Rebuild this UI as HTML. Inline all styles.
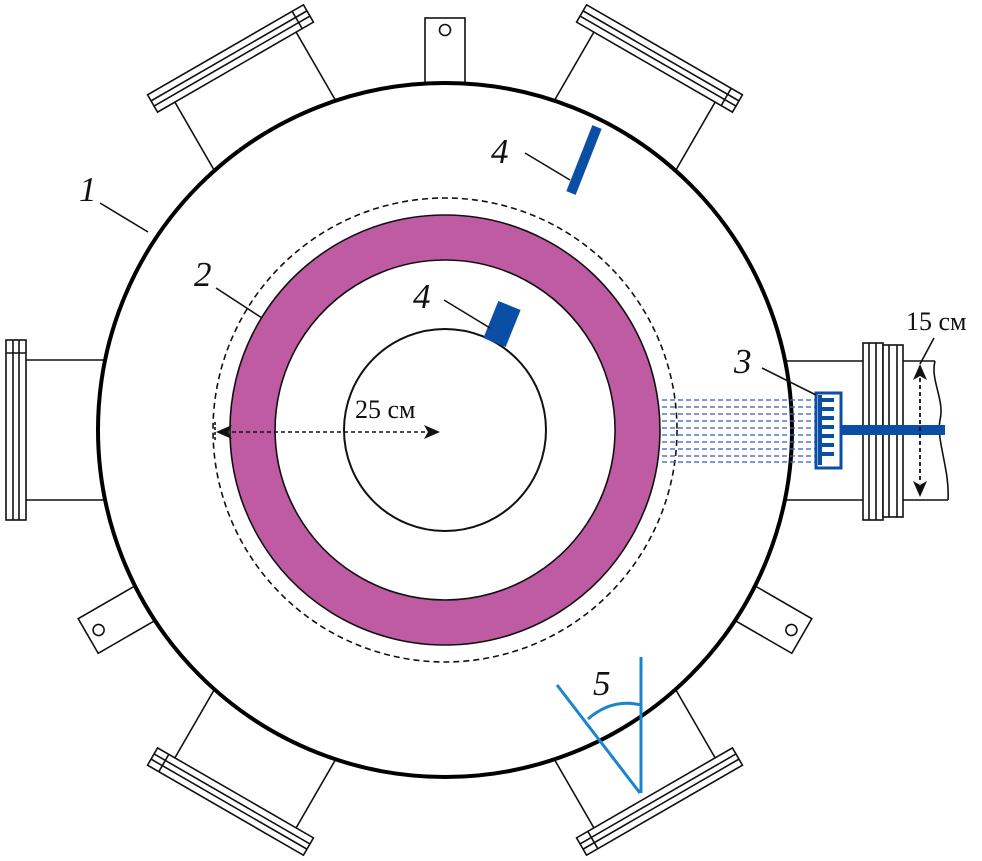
<!DOCTYPE html>
<html><head><meta charset="utf-8"><style>
html,body{margin:0;padding:0;background:#fff}
svg{display:block}
text{font-family:"Liberation Serif",serif;fill:#111}
</style></head><body>
<svg width="982" height="861" viewBox="0 0 982 861" xmlns="http://www.w3.org/2000/svg">
<defs>
<g id="port" fill="none" stroke="#111" stroke-width="1.6">
  <line x1="780" y1="360" x2="864" y2="360"/>
  <line x1="780" y1="500" x2="864" y2="500"/>
  <rect x="864" y="340" width="20" height="180" fill="#fff"/>
  <line x1="871" y1="340" x2="871" y2="520"/>
  <line x1="877" y1="340" x2="877" y2="520"/>
  <line x1="864" y1="507" x2="884" y2="507"/>
</g>
<g id="tab" fill="#fff" stroke="#111" stroke-width="1.6">
  <rect x="785" y="410" width="72" height="40"/>
  <circle cx="845" cy="430" r="5.5"/>
</g>
</defs>
<use href="#port" transform="rotate(180 445 430)"/>
<use href="#port" transform="rotate(-120 445 430)"/>
<use href="#port" transform="rotate(-60 445 430)"/>
<use href="#port" transform="rotate(120 445 430)"/>
<use href="#port" transform="rotate(60 445 430)"/>
<use href="#tab" transform="rotate(-90 445 430)"/>
<use href="#tab" transform="rotate(150 445 430)"/>
<use href="#tab" transform="rotate(30 445 430)"/>
<g fill="none" stroke="#111" stroke-width="1.6">
  <line x1="780" y1="361" x2="935" y2="361"/>
  <line x1="780" y1="500" x2="948" y2="500"/>
  <path d="M935 361 C930 380 945 400 940 420 C936 440 950 470 948 500"/>
  <rect x="863" y="343" width="20" height="177" fill="#fff"/>
  <line x1="869" y1="343" x2="869" y2="520"/>
  <line x1="876" y1="343" x2="876" y2="520"/>
  <rect x="883" y="345" width="20" height="172" fill="#fff"/>
  <line x1="889" y1="345" x2="889" y2="517"/>
  <line x1="897" y1="345" x2="897" y2="517"/>
</g>
<circle cx="445" cy="430" r="347" fill="#fff" stroke="#000" stroke-width="4"/>
<circle cx="445" cy="430" r="232" fill="none" stroke="#111" stroke-width="1.6" stroke-dasharray="6 4"/>
<path d="M445 215 A215 215 0 1 1 444.9 215 Z M445 260 A170 170 0 1 0 445.1 260 Z" fill="#bf5ba2" fill-rule="evenodd" stroke="#111" stroke-width="1.6"/>
<circle cx="445" cy="430" r="101" fill="#fff" stroke="#111" stroke-width="2"/>
<g stroke="#3b64c0" stroke-width="1.8" stroke-dasharray="5 3" opacity="0.75">
  <line x1="662" y1="400" x2="815" y2="400"/>
  <line x1="662" y1="407" x2="815" y2="407"/>
  <line x1="662" y1="414" x2="815" y2="414"/>
  <line x1="662" y1="421" x2="815" y2="421"/>
  <line x1="662" y1="428" x2="815" y2="428"/>
  <line x1="662" y1="435" x2="815" y2="435"/>
  <line x1="662" y1="442" x2="815" y2="442"/>
  <line x1="662" y1="449" x2="815" y2="449"/>
  <line x1="662" y1="456" x2="815" y2="456"/>
  <line x1="662" y1="462" x2="815" y2="462"/>
</g>
<rect x="842" y="425" width="103" height="10" fill="#0b4ea6"/>
<rect x="816" y="393" width="25" height="75" fill="#fff" stroke="#0b4ea6" stroke-width="3"/>
<g fill="#0b4ea6">
  <rect x="818" y="395" width="4" height="70"/>
  <rect x="818" y="398" width="16" height="4"/>
  <rect x="818" y="407" width="16" height="4"/>
  <rect x="818" y="416" width="16" height="4"/>
  <rect x="818" y="425" width="16" height="4"/>
  <rect x="818" y="434" width="16" height="4"/>
  <rect x="818" y="443" width="16" height="4"/>
  <rect x="818" y="452" width="16" height="4"/>
</g>
<line x1="571" y1="193" x2="597" y2="127" stroke="#0b4ea6" stroke-width="10"/>
<rect x="-12" y="-20" width="24" height="40" fill="#0b4ea6" transform="translate(502 324) rotate(22)"/>
<g stroke="#111" stroke-width="1.6" stroke-dasharray="4 3">
  <line x1="225" y1="432" x2="428" y2="432"/>
  <line x1="215" y1="422" x2="215" y2="442" stroke-dasharray="3 2"/>
</g>
<path d="M216 432 L232 425 L228 432 L232 439 Z" fill="#111"/>
<path d="M440 432 L424 425 L428 432 L424 439 Z" fill="#111"/>
<text x="355" y="418" font-size="26">25 см</text>
<line x1="920" y1="378" x2="920" y2="482" stroke="#111" stroke-width="1.8" stroke-dasharray="4 3"/>
<path d="M920 364 L913 380 L920 376 L927 380 Z" fill="#111"/>
<path d="M920 497 L913 481 L920 485 L927 481 Z" fill="#111"/>
<line x1="934" y1="338" x2="920" y2="364" stroke="#111" stroke-width="1.6"/>
<text x="906" y="330" font-size="26">15 см</text>
<g stroke="#111" stroke-width="1.6">
  <line x1="100" y1="203" x2="148" y2="232"/>
  <line x1="216" y1="288" x2="262" y2="318"/>
  <line x1="525" y1="153" x2="570" y2="180"/>
  <line x1="444" y1="300" x2="490" y2="328"/>
  <line x1="762" y1="368" x2="816" y2="395"/>
</g>
<g font-style="italic" font-size="35">
  <text x="79" y="201">1</text>
  <text x="194" y="286">2</text>
  <text x="491" y="163">4</text>
  <text x="413" y="308">4</text>
  <text x="734" y="373">3</text>
  <text x="593" y="695">5</text>
</g>
<g stroke="#1b84d0" stroke-width="3" fill="none">
  <line x1="641" y1="657" x2="641" y2="793"/>
  <line x1="557" y1="685" x2="640" y2="793"/>
  <path d="M588 719 Q612 698 641 705"/>
</g>
</svg>
</body></html>
